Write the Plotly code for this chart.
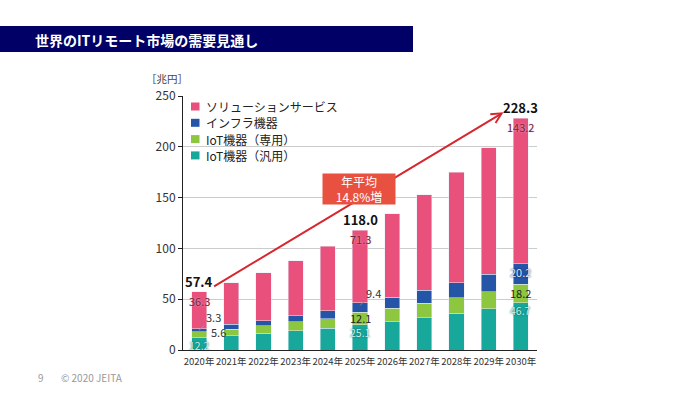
import plotly.graph_objects as go

years = ["2020年", "2021年", "2022年", "2023年", "2024年", "2025年",
         "2026年", "2027年", "2028年", "2029年", "2030年"]
iot_general = [12.2, 14.0, 16.4, 19.0, 21.3, 25.1, 27.9, 31.8, 36.0, 40.7, 46.7]
iot_dedicated = [5.6, 6.6, 7.6, 8.6, 9.5, 12.1, 13.1, 14.2, 15.5, 16.7, 18.2]
infra = [3.3, 4.7, 4.9, 5.9, 7.9, 9.4, 10.9, 13.0, 14.8, 17.4, 20.2]
solution = [36.3, 40.9, 47.1, 54.5, 63.3, 71.3, 82.1, 93.6, 108.7, 124.2, 143.2]
totals = [57.4, 66.2, 76.0, 88.0, 102.0, 118.0, 134.0, 152.6, 175.0, 199.0, 228.3]
y_ticks = [0, 50, 100, 150, 200, 250]
series_names = ["ソリューションサービス", "インフラ機器", "IoT機器（専用）", "IoT機器（汎用）"]

C_SOL = "#E9507C"
C_INF = "#2455A6"
C_DED = "#8DC63F"
C_GEN = "#17A89B"
series_colors = [C_SOL, C_INF, C_DED, C_GEN]
JP = "Noto Sans CJK JP, Noto Sans, sans-serif"

W, H = 700, 394
L, R, T, B = 183, 163, 96, 44
PW, PH = W - L - R, H - T - B


def px(xp):
    return (xp - L) / PW


def py(yp):
    return (H - B - yp) / PH


fig = go.Figure()
fig.add_bar(x=years, y=iot_general, name=series_names[3], marker_color=C_GEN)
fig.add_bar(x=years, y=iot_dedicated, name=series_names[2], marker_color=C_DED)
fig.add_bar(x=years, y=infra, name=series_names[1], marker_color=C_INF)
fig.add_bar(x=years, y=solution, name=series_names[0], marker_color=C_SOL)

ann = []
shapes = [dict(type="rect", xref="paper", yref="paper",
               x0=px(0), x1=px(413), y0=py(52), y1=py(26),
               fillcolor="#000066", line=dict(width=0), layer="below")]

# growth arrow
ann.append(dict(x=9.46, y=234, ax=0.42, ay=61.7, xref="x", yref="y", axref="x", ayref="y",
                showarrow=True, arrowhead=5, arrowsize=1, arrowwidth=2,
                arrowcolor="#D7262E", text=""))
# average growth box
ann.append(dict(x=4.97, y=158, xref="x", yref="y", showarrow=False,
                text="年平均<br>14.8%増", font=dict(family=JP, size=12, color="white"),
                bgcolor="#E8513F", borderpad=0, width=72, height=30, align="center"))

for i in (0, 5, 10):
    ann.append(dict(x=i, y=totals[i], xref="x", yref="y", showarrow=False,
                    text=f"<b>{totals[i]:.1f}</b>", yanchor="bottom", yshift=-1,
                    font=dict(family=JP, size=13, color="#111")))
    ann.append(dict(x=i, y=totals[i], xref="x", yref="y", showarrow=False,
                    text=f"{solution[i]:.1f}", yanchor="top", yshift=1,
                    font=dict(family=JP, size=11, color="#6E2436",
                              shadow="0 0 2px #F5B8C8")))
    ann.append(dict(x=i, y=iot_general[i], xref="x", yref="y", showarrow=False,
                    text=f"{iot_general[i]:.1f}", yanchor="top", yshift=2,
                    font=dict(family=JP, size=10.5, color="#C5F2F0",
                              shadow="0 0 2px #0B4F4A")))

# 2020 side labels
ann.append(dict(x=0, y=iot_general[0] + iot_dedicated[0] + infra[0] / 2, xref="x", yref="y",
                showarrow=True, arrowhead=0, arrowwidth=1, arrowcolor="#8899CC",
                ax=14, ay=-13, text="3.3", font=dict(family=JP, size=11, color="#333")))
ann.append(dict(x=0, y=iot_general[0] + iot_dedicated[0] / 2, xref="x", yref="y",
                showarrow=False, xanchor="left", xshift=10, yshift=3,
                text="5.6", font=dict(family=JP, size=11, color="#333")))
# 2025 labels
ann.append(dict(x=5, y=iot_general[5] + iot_dedicated[5] + infra[5] * 0.7, xref="x", yref="y",
                showarrow=True, arrowhead=0, arrowwidth=1, arrowcolor="#888",
                ax=13, ay=-13, text="9.4", font=dict(family=JP, size=11, color="#333")))
ann.append(dict(x=5, y=iot_general[5] + iot_dedicated[5] / 2, xref="x", yref="y",
                showarrow=False, text="12.1", font=dict(family=JP, size=11, color="#222")))
# 2030 labels
ann.append(dict(x=10, y=iot_general[10] + iot_dedicated[10] / 2, xref="x", yref="y",
                showarrow=False, text="18.2", font=dict(family=JP, size=11, color="#222")))
ann.append(dict(x=10, y=iot_general[10] + iot_dedicated[10] + infra[10] / 2 + 2, xref="x", yref="y",
                showarrow=False, text="20.2",
                font=dict(family=JP, size=11, color="#DDE6FA", shadow="0 0 2px #0A1E4E")))

# manual legend
for k, (nm, col) in enumerate(zip(series_names, series_colors)):
    yc = 106.5 + k * 16.3
    shapes.append(dict(type="rect", xref="paper", yref="paper",
                       x0=px(191), x1=px(199.5), y0=py(yc + 4), y1=py(yc - 4),
                       fillcolor=col, line=dict(width=0)))
    ann.append(dict(x=px(204), y=py(yc), xref="paper", yref="paper", showarrow=False,
                    xanchor="left", yanchor="middle", text=nm,
                    font=dict(family=JP, size=12, color="#222")))

# unit label
ann.append(dict(x=px(144), y=py(79), xref="paper", yref="paper", showarrow=False,
                xanchor="left", yanchor="middle", text="［兆円］",
                font=dict(family=JP, size=10.5, color="#444")))
# title
ann.append(dict(x=px(33), y=py(40), xref="paper", yref="paper", showarrow=False,
                xanchor="left", yanchor="middle", text="<b>世界のITリモート市場の需要見通し</b>",
                font=dict(family=JP, size=14, color="white")))
# footer
ann.append(dict(x=px(36), y=py(377), xref="paper", yref="paper", showarrow=False,
                xanchor="left", yanchor="middle", text="9",
                font=dict(family=JP, size=10, color="#999")))
ann.append(dict(x=px(59), y=py(377), xref="paper", yref="paper", showarrow=False,
                xanchor="left", yanchor="middle", text="© 2020 JEITA",
                font=dict(family=JP, size=10, color="#999")))

fig.update_layout(
    width=W, height=H, margin=dict(l=L, r=R, t=T, b=B),
    paper_bgcolor="white", plot_bgcolor="white",
    barmode="stack", bargap=0.53,
    font=dict(family=JP, color="#333"),
    showlegend=False,
    annotations=ann,
    shapes=shapes,
    xaxis=dict(showline=True, linecolor="#222", linewidth=1, ticks="",
               tickangle=0, automargin=False, ticklabelstandoff=3,
               tickfont=dict(family=JP, size=9.5, color="#333"),
               range=[-0.5, 10.5]),
    yaxis=dict(range=[0, 250], tickvals=y_ticks, showline=True, linecolor="#222",
               linewidth=1, ticks="outside", ticklen=4, tickcolor="#222", automargin=False,
               showgrid=True, gridcolor="#CCCCCC", gridwidth=1,
               tickfont=dict(family=JP, size=12, color="#333")),
)

fig.write_html("out.html", config={"displayModeBar": False},
               post_script="document.body.style.margin='0';document.body.style.padding='0';")
